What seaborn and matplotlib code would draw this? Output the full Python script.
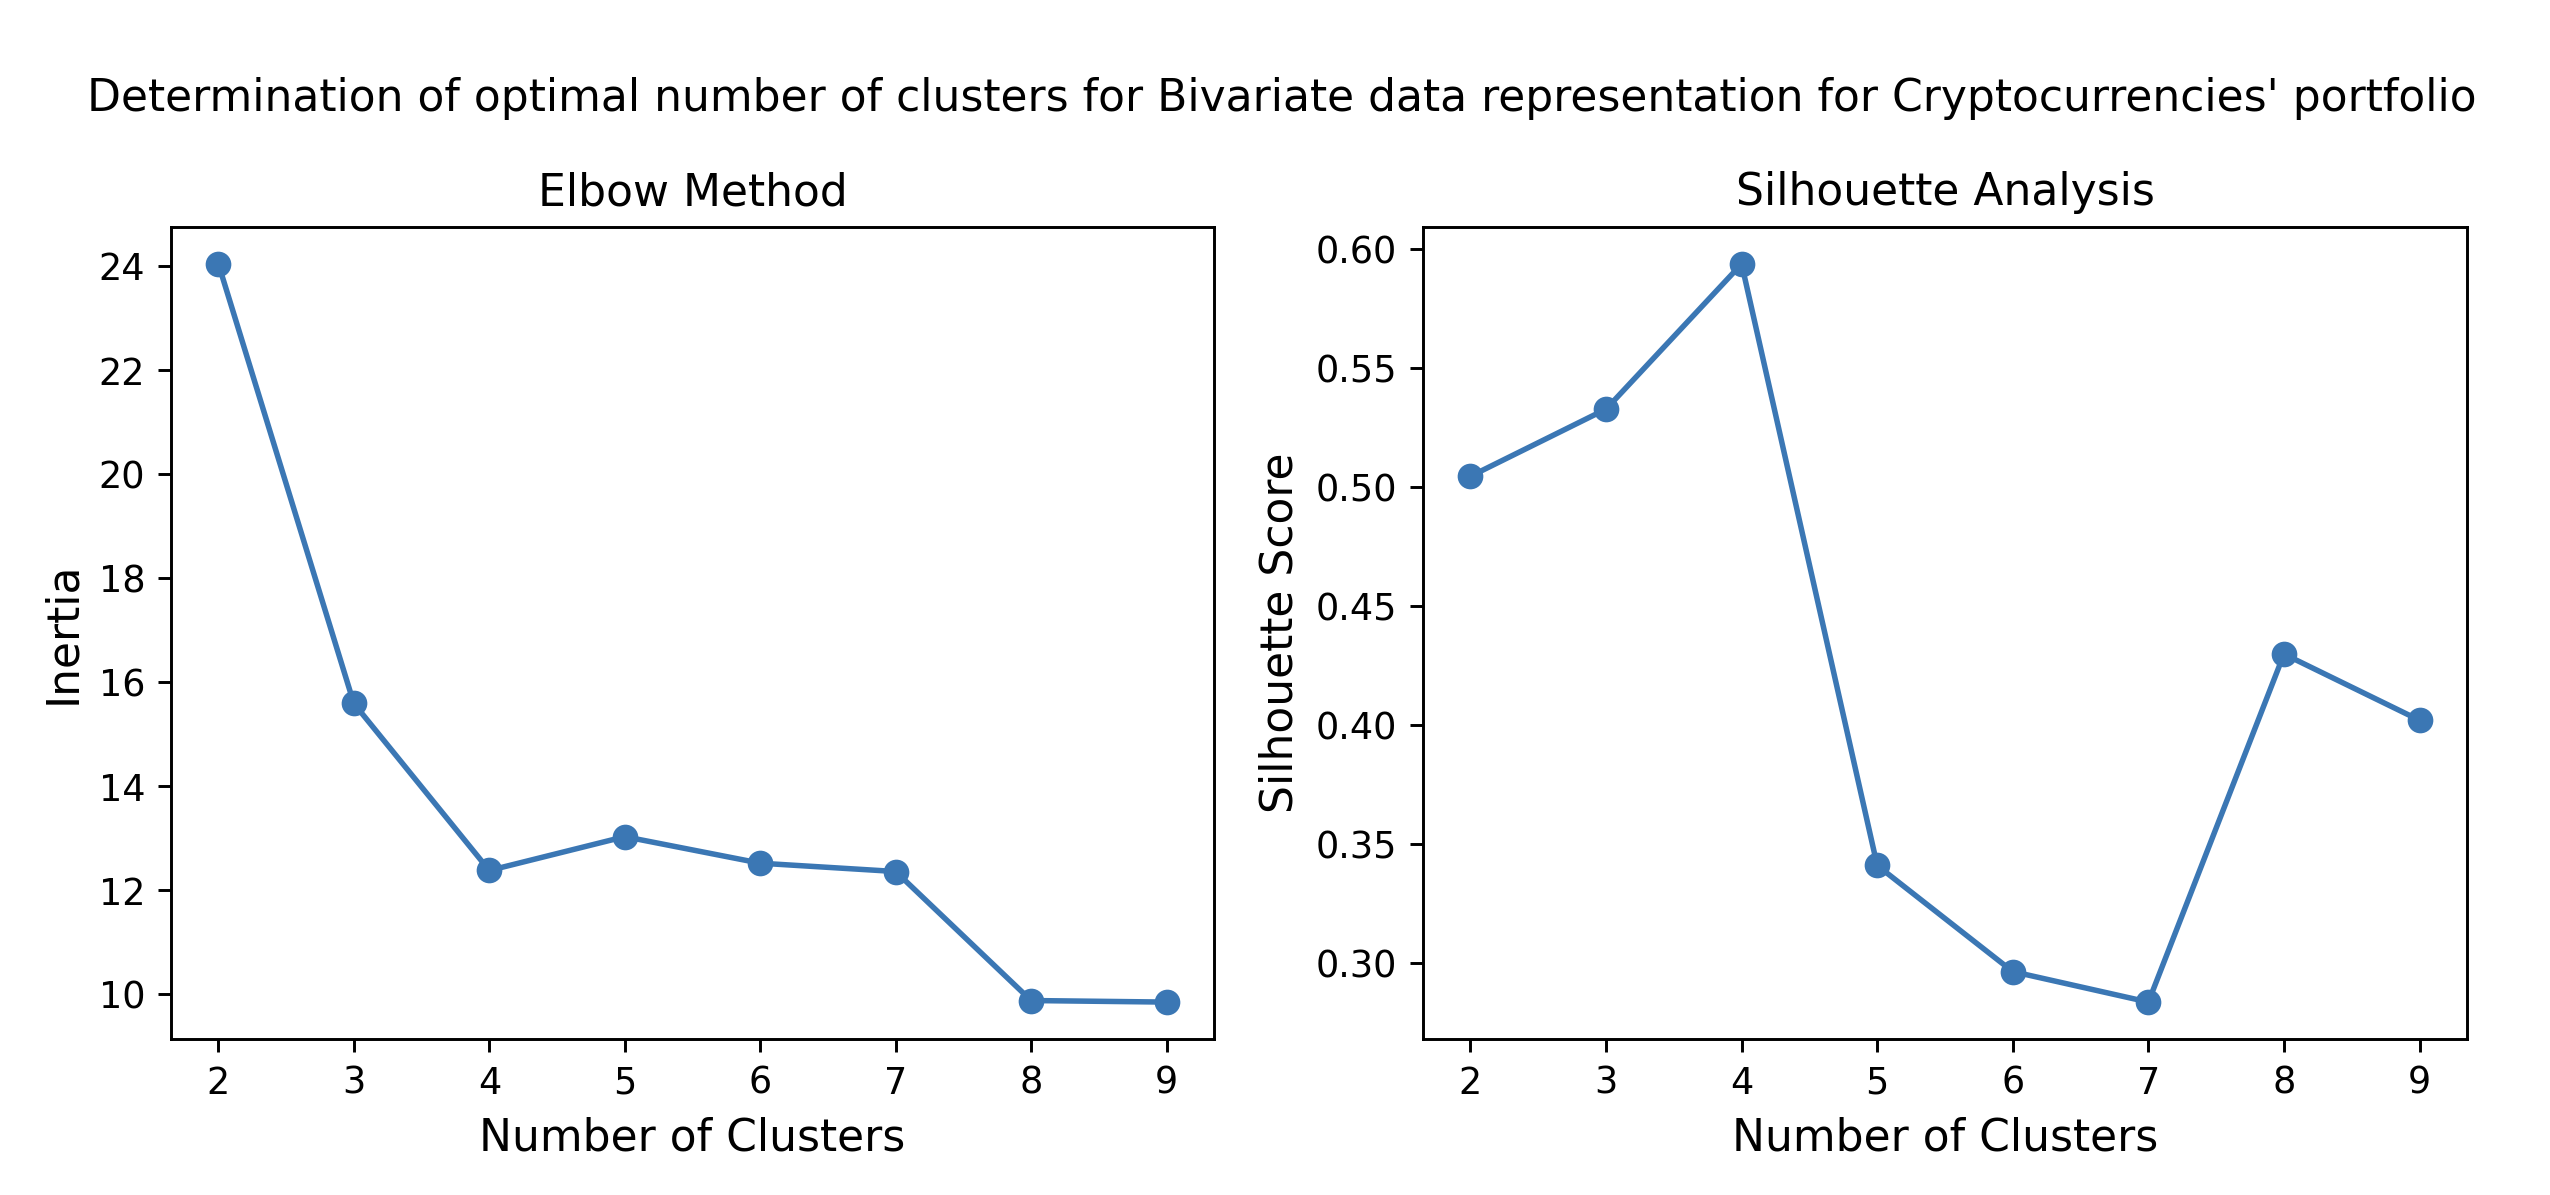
import matplotlib
matplotlib.use('Agg')
import matplotlib.pyplot as plt
import seaborn as sns

# Values
clusters = [2, 3, 4, 5, 6, 7, 8, 9]
inertia = [24.04, 15.59, 12.38, 13.03, 12.52, 12.36, 9.88, 9.85]
silhouette = [0.5044, 0.5326, 0.5936, 0.3409, 0.2963, 0.2835, 0.4297, 0.4019]

line_color = '#3b77b4'

plt.rcParams['font.family'] = ['DejaVu Sans']

# 2550 x 1195 px output
dpi = 264
fig = plt.figure(figsize=(2550 / dpi, 1195 / dpi), dpi=dpi)
ax1 = fig.add_axes([171 / 2550, 156 / 1195, 1043 / 2550, 812 / 1195])
ax2 = fig.add_axes([1423 / 2550, 156 / 1195, 1044 / 2550, 812 / 1195])

# Elbow method
sns.lineplot(x=clusters, y=inertia, marker='o', color=line_color,
             markeredgecolor=line_color, markeredgewidth=1, markersize=6,
             linewidth=1.5, ax=ax1)
ax1.set_title('Elbow Method', fontsize=12)
ax1.set_xlabel('Number of Clusters', fontsize=12)
ax1.set_ylabel('Inertia', fontsize=12)
ax1.set_xticks(clusters)
ax1.set_yticks([10, 12, 14, 16, 18, 20, 22, 24])

# Silhouette analysis
sns.lineplot(x=clusters, y=silhouette, marker='o', color=line_color,
             markeredgecolor=line_color, markeredgewidth=1, markersize=6,
             linewidth=1.5, ax=ax2)
ax2.set_title('Silhouette Analysis', fontsize=12)
ax2.set_xlabel('Number of Clusters', fontsize=12)
ax2.set_ylabel('Silhouette Score', fontsize=12)
ax2.set_xticks(clusters)
ax2.set_yticks([0.30, 0.35, 0.40, 0.45, 0.50, 0.55, 0.60])

for ax in (ax1, ax2):
    ax.tick_params(labelsize=10)

fig.suptitle("Determination of optimal number of clusters for Bivariate data representation for Cryptocurrencies' portfolio",
             fontsize=12, y=1 - 111 / 1195, va='baseline', x=0.5025)

plt.savefig('out.png', dpi=dpi, facecolor='white')
